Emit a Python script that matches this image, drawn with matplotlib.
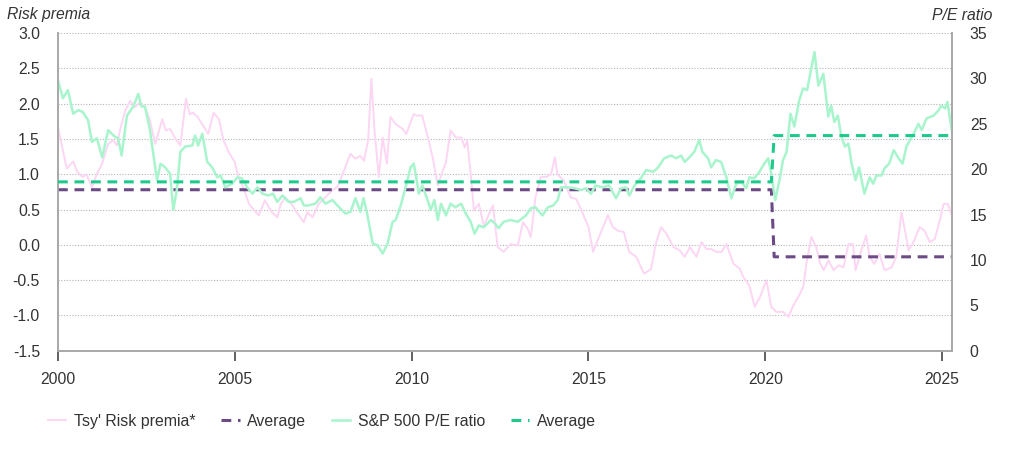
import matplotlib
matplotlib.use("Agg")
import matplotlib.pyplot as plt

plt.rcParams['font.family'] = ['Liberation Sans', 'DejaVu Sans']

# ---- Data -----------------------------------------------------------------
rp_t = [2000.00, 2000.25, 2000.43, 2000.55, 2000.70, 2000.80, 2000.96, 2001.10, 2001.25, 2001.42,
        2001.55, 2001.67, 2001.76, 2001.90, 2002.04, 2002.18, 2002.32, 2002.46, 2002.60, 2002.75,
        2002.95, 2003.05, 2003.17, 2003.30, 2003.46, 2003.62, 2003.72, 2003.82, 2003.95, 2004.10,
        2004.25, 2004.40, 2004.55, 2004.68, 2004.83, 2005.00, 2005.10, 2005.25, 2005.40, 2005.60,
        2005.68, 2005.85, 2006.05, 2006.20, 2006.30, 2006.43, 2006.60, 2006.75, 2006.95, 2007.05,
        2007.20, 2007.37, 2007.56, 2007.75, 2007.90, 2008.05, 2008.27, 2008.40, 2008.55, 2008.65,
        2008.77, 2008.86, 2008.95, 2009.07, 2009.18, 2009.30, 2009.40, 2009.55, 2009.75, 2009.85,
        2009.92, 2010.06, 2010.15, 2010.30, 2010.48, 2010.60, 2010.74, 2010.88, 2010.97, 2011.10,
        2011.25, 2011.40, 2011.50, 2011.57, 2011.67, 2011.76, 2011.90, 2012.04, 2012.30, 2012.43,
        2012.60, 2012.80, 2013.00, 2013.15, 2013.28, 2013.37, 2013.50, 2013.65, 2013.80, 2013.94,
        2014.05, 2014.12, 2014.30, 2014.50, 2014.65, 2014.80, 2015.00, 2015.13, 2015.27, 2015.41,
        2015.55, 2015.69, 2015.83, 2016.00, 2016.15, 2016.35, 2016.57, 2016.77, 2016.90, 2017.05,
        2017.20, 2017.40, 2017.58, 2017.72, 2017.87, 2018.05, 2018.20, 2018.33, 2018.47, 2018.62,
        2018.76, 2018.90, 2019.10, 2019.28, 2019.38, 2019.55, 2019.70, 2019.85, 2020.03, 2020.17,
        2020.31, 2020.50, 2020.65, 2020.79, 2020.93, 2021.07, 2021.16, 2021.30, 2021.44, 2021.54,
        2021.65, 2021.79, 2021.93, 2022.07, 2022.21, 2022.35, 2022.48, 2022.55, 2022.70, 2022.85,
        2022.95, 2023.08, 2023.23, 2023.37, 2023.57, 2023.70, 2023.85, 2023.95, 2024.05, 2024.19,
        2024.36, 2024.50, 2024.65, 2024.79, 2024.93, 2025.04, 2025.16, 2025.27]
rp_v = [1.66, 1.08, 1.18, 1.03, 0.96, 1.00, 0.82, 1.00, 1.15, 1.43,
        1.48, 1.41, 1.64, 1.90, 2.04, 1.95, 2.02, 1.95, 1.76, 1.43,
        1.78, 1.62, 1.64, 1.52, 1.41, 2.07, 1.85, 1.87, 1.81, 1.69,
        1.57, 1.87, 1.78, 1.48, 1.31, 1.17, 0.96, 0.80, 0.58, 0.46,
        0.42, 0.63, 0.46, 0.39, 0.58, 0.67, 0.58, 0.46, 0.32, 0.46,
        0.39, 0.58, 0.67, 0.77, 0.82, 1.00, 1.29, 1.22, 1.26, 1.19,
        1.48, 2.35, 1.62, 0.96, 1.52, 1.15, 1.81, 1.71, 1.64, 1.57,
        1.67, 1.85, 1.83, 1.83, 1.48, 1.22, 0.84, 1.05, 1.17, 1.62,
        1.52, 1.52, 1.38, 1.48, 1.00, 0.49, 0.58, 0.27, 0.56, -0.03,
        -0.10, 0.01, -0.01, 0.32, 0.23, 0.11, 0.67, 0.96, 0.96, 1.00,
        1.24, 1.00, 0.91, 0.67, 0.65, 0.49, 0.25, -0.10, 0.08, 0.25,
        0.42, 0.25, 0.20, 0.18, -0.10, -0.17, -0.41, -0.34, 0.01, 0.25,
        0.16, -0.03, -0.08, -0.17, -0.03, -0.17, 0.04, -0.06, -0.06, -0.10,
        -0.10, 0.01, -0.27, -0.34, -0.46, -0.58, -0.88, -0.74, -0.50, -0.88,
        -0.95, -0.95, -1.02, -0.86, -0.74, -0.60, -0.27, 0.11, -0.03, -0.25,
        -0.36, -0.22, -0.36, -0.29, -0.32, 0.01, 0.01, -0.36, -0.10, 0.13,
        -0.17, -0.27, -0.13, -0.36, -0.32, -0.17, 0.46, 0.20, -0.08, 0.04,
        0.25, 0.20, 0.04, 0.08, 0.34, 0.58, 0.58, 0.42]

pe_t = [2000.00, 2000.14, 2000.28, 2000.43, 2000.57, 2000.70, 2000.85, 2000.96, 2001.10, 2001.25,
        2001.42, 2001.60, 2001.70, 2001.80, 2001.95, 2002.13, 2002.27, 2002.36, 2002.46, 2002.60,
        2002.80, 2002.90, 2003.03, 2003.17, 2003.26, 2003.36, 2003.46, 2003.60, 2003.80, 2003.88,
        2003.96, 2004.08, 2004.22, 2004.36, 2004.50, 2004.60, 2004.73, 2004.93, 2005.07, 2005.20,
        2005.35, 2005.50, 2005.64, 2005.78, 2005.95, 2006.08, 2006.20, 2006.35, 2006.52, 2006.67,
        2006.86, 2006.95, 2007.08, 2007.28, 2007.42, 2007.56, 2007.76, 2007.90, 2008.13, 2008.27,
        2008.41, 2008.55, 2008.64, 2008.74, 2008.90, 2009.04, 2009.18, 2009.32, 2009.46, 2009.55,
        2009.69, 2009.83, 2009.97, 2010.06, 2010.13, 2010.20, 2010.30, 2010.45, 2010.54, 2010.64,
        2010.74, 2010.83, 2010.97, 2011.10, 2011.24, 2011.40, 2011.53, 2011.67, 2011.78, 2011.90,
        2012.04, 2012.24, 2012.36, 2012.46, 2012.60, 2012.80, 2013.00, 2013.23, 2013.37, 2013.50,
        2013.70, 2013.85, 2014.00, 2014.13, 2014.22, 2014.42, 2014.60, 2014.79, 2014.93, 2015.07,
        2015.20, 2015.40, 2015.58, 2015.78, 2015.92, 2016.06, 2016.15, 2016.30, 2016.50, 2016.63,
        2016.83, 2016.97, 2017.14, 2017.34, 2017.48, 2017.62, 2017.72, 2017.85, 2017.99, 2018.13,
        2018.22, 2018.38, 2018.47, 2018.60, 2018.75, 2018.90, 2019.04, 2019.18, 2019.32, 2019.46,
        2019.55, 2019.69, 2019.83, 2019.97, 2020.08, 2020.17, 2020.28, 2020.40, 2020.50, 2020.60,
        2020.71, 2020.82, 2020.96, 2021.07, 2021.18, 2021.30, 2021.39, 2021.50, 2021.64, 2021.78,
        2021.86, 2021.95, 2022.05, 2022.15, 2022.25, 2022.35, 2022.44, 2022.55, 2022.65, 2022.80,
        2022.95, 2023.05, 2023.14, 2023.28, 2023.37, 2023.50, 2023.63, 2023.75, 2023.88, 2023.99,
        2024.19, 2024.33, 2024.42, 2024.56, 2024.76, 2024.90, 2024.98, 2025.08, 2025.15, 2025.27]
pe_v = [29.8, 27.8, 28.7, 26.1, 26.5, 26.3, 25.4, 23.0, 23.4, 21.3,
        24.3, 23.6, 23.4, 21.5, 25.9, 26.9, 28.3, 26.9, 26.9, 24.3,
        18.8, 20.6, 20.2, 19.5, 15.5, 17.7, 21.9, 22.5, 22.6, 23.7,
        22.6, 23.9, 20.8, 20.2, 19.1, 19.3, 18.0, 18.4, 19.1, 19.0,
        18.0, 17.3, 18.0, 17.3, 17.1, 17.3, 16.4, 17.1, 16.4, 16.4,
        16.8, 16.0, 16.0, 16.2, 16.9, 16.2, 16.6, 16.0, 15.1, 15.3,
        16.8, 15.3, 16.8, 15.1, 11.8, 11.6, 10.7, 11.8, 14.2, 14.4,
        16.0, 18.0, 20.2, 20.6, 19.1, 17.3, 18.2, 16.6, 15.5, 16.6,
        14.4, 16.2, 14.9, 16.2, 15.8, 16.2, 15.1, 14.2, 12.9, 13.8,
        13.6, 14.4, 14.0, 13.5, 14.2, 14.4, 14.2, 14.9, 15.7, 15.8,
        14.9, 15.8, 16.0, 16.6, 18.0, 18.0, 17.9, 17.7, 17.9, 17.3,
        18.2, 18.0, 18.2, 16.8, 17.9, 18.0, 17.1, 18.2, 19.1, 19.9,
        19.7, 20.2, 21.2, 21.5, 21.2, 21.5, 20.8, 21.3, 21.9, 23.2,
        21.9, 21.2, 20.2, 21.0, 20.8, 19.1, 16.8, 18.4, 18.6, 17.9,
        19.1, 19.0, 19.7, 20.6, 21.2, 19.5, 16.6, 18.8, 21.0, 21.9,
        26.1, 24.7, 27.6, 28.9, 28.7, 31.1, 32.9, 29.2, 30.5, 25.8,
        27.0, 25.2, 25.9, 23.6, 22.5, 22.8, 20.6, 18.8, 20.2, 17.3,
        19.1, 18.4, 19.3, 19.3, 20.1, 20.6, 22.1, 21.3, 20.6, 22.5,
        23.9, 25.0, 24.3, 25.6, 25.9, 26.5, 27.0, 26.7, 27.4, 24.3]

# period averages (before / after spring 2020)
avg_t = [2000.00, 2020.17, 2020.25, 2025.27]
rp_avg = [0.78, 0.78, -0.17, -0.17]
pe_avg = [18.6, 18.6, 23.7, 23.7]

x_ticks = [2000, 2005, 2010, 2015, 2020, 2025]
left_ticks = [-1.5, -1.0, -0.5, 0.0, 0.5, 1.0, 1.5, 2.0, 2.5, 3.0]
right_ticks = [0, 5, 10, 15, 20, 25, 30, 35]

labels = ["Tsy' Risk premia*", "Average", "S&P 500 P/E ratio", "Average"]

# ---- Style ----------------------------------------------------------------
c_pink = '#fcd6f3'
c_purple = '#6b4a86'
c_green = '#a8f5cd'
c_green_avg = '#1ec98c'
c_text = '#333333'

fig = plt.figure(figsize=(10.1, 4.49), dpi=100)
ax = fig.add_axes([0.0574, 0.2189, 0.8849, 0.7076])
ax2 = ax.twinx()

l1, = ax.plot(rp_t, rp_v, color=c_pink, lw=1.4, zorder=2)
l2, = ax.plot(avg_t, rp_avg, color=c_purple, lw=2.2, dashes=(3.2, 2.2), zorder=3)
l3, = ax2.plot(pe_t, pe_v, color=c_green, lw=1.8, zorder=2)
l4, = ax2.plot(avg_t, pe_avg, color=c_green_avg, lw=2.2, dashes=(3.2, 2.2), zorder=3)

ax.set_xlim(2000, 2025.27)
ax.set_ylim(-1.5, 3.0)
ax2.set_ylim(0, 35)

ax.set_xticks(x_ticks)
ax.set_xticklabels([str(t) for t in x_ticks])
ax.set_yticks(left_ticks)
ax.set_yticklabels(['%.1f' % v for v in left_ticks])
ax2.set_yticks(right_ticks)
ax2.set_yticklabels([str(v) for v in right_ticks])

ax.yaxis.grid(True, linestyle=(0, (1, 1.5)), color='#b5b5b5', lw=0.8)
ax.set_axisbelow(True)

for a in (ax, ax2):
    a.spines['top'].set_visible(False)
    for s in ('left', 'right', 'bottom'):
        a.spines[s].set_color('#a8a8a8')
        a.spines[s].set_linewidth(1.2)

ax.tick_params(axis='y', length=0, pad=13, labelsize=11.3, labelcolor=c_text)
ax2.tick_params(axis='y', length=0, pad=13, labelsize=11.3, labelcolor=c_text)
ax.tick_params(axis='x', length=7, width=1.3, color='#555555', pad=8.5,
               labelsize=11.3, labelcolor=c_text)

fig.text(7 / 1010, 1 - 15 / 449, 'Risk premia', fontsize=11.3, style='italic',
         color=c_text, ha='left', va='center')
fig.text(992 / 1010, 1 - 15 / 449, 'P/E ratio', fontsize=11.3, style='italic',
         color=c_text, ha='right', va='center')

fig.legend([l1, l2, l3, l4], labels, loc='center left',
           bbox_to_anchor=(34 / 1010, 1 - 421.5 / 449), ncol=4, frameon=False,
           fontsize=11.4, handlelength=1.15, handletextpad=0.5, columnspacing=1.6,
           labelcolor=c_text)

fig.savefig('out.png', dpi=100)
